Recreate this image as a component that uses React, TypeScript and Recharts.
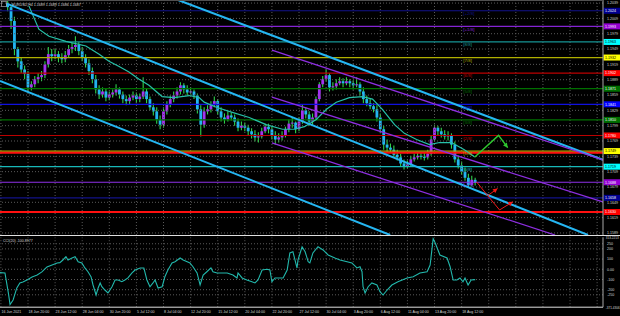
import React from 'react';
import { ComposedChart, Bar, Line, XAxis, YAxis, ReferenceLine, ReferenceDot } from 'recharts';

// ---------- data ----------
const FIRST_INDEX = 2; // index of first visible candle (each candle = 2 H4 bars)
const opens = [1.2039,1.2031,1.2004,1.1949,1.1925,1.1909,1.1900,1.1874,1.1880,1.1890,1.1894,1.1898,1.1919,1.1939,1.1935,1.1939,1.1933,1.1929,1.1937,1.1949,1.1953,1.1957,1.1945,1.1933,1.1921,1.1906,1.1890,1.1870,1.1860,1.1866,1.1854,1.1860,1.1864,1.1870,1.1860,1.1851,1.1847,1.1854,1.1858,1.1851,1.1856,1.1866,1.1851,1.1835,1.1827,1.1811,1.1801,1.1827,1.1841,1.1851,1.1858,1.1866,1.1878,1.1870,1.1864,1.1866,1.1858,1.1831,1.1801,1.1827,1.1831,1.1839,1.1847,1.1827,1.1815,1.1811,1.1819,1.1815,1.1807,1.1795,1.1799,1.1795,1.1788,1.1782,1.1776,1.1778,1.1788,1.1797,1.1792,1.1780,1.1772,1.1776,1.1780,1.1792,1.1803,1.1805,1.1792,1.1807,1.1829,1.1821,1.1807,1.1815,1.1851,1.1880,1.1890,1.1898,1.1874,1.1876,1.1882,1.1886,1.1882,1.1886,1.1882,1.1878,1.1880,1.1866,1.1851,1.1843,1.1837,1.1831,1.1815,1.1792,1.1762,1.1756,1.1752,1.1742,1.1737,1.1725,1.1719,1.1723,1.1733,1.1737,1.1740,1.1738,1.1737,1.1744,1.1772,1.1795,1.1788,1.1782,1.1778,1.1780,1.1762,1.1733,1.1721,1.1709,1.1697,1.1683,1.1693];
const highs = [1.2047,1.2035,1.2012,1.1953,1.1933,1.1917,1.1906,1.1886,1.1896,1.1902,1.1906,1.1925,1.1953,1.1949,1.1949,1.1945,1.1941,1.1945,1.1957,1.1961,1.1974,1.1963,1.1953,1.1939,1.1929,1.1913,1.1898,1.1878,1.1874,1.1872,1.1866,1.1870,1.1880,1.1874,1.1866,1.1858,1.1860,1.1866,1.1864,1.1862,1.1894,1.1872,1.1856,1.1843,1.1835,1.1819,1.1835,1.1847,1.1858,1.1866,1.1874,1.1884,1.1882,1.1878,1.1874,1.1870,1.1862,1.1839,1.1835,1.1839,1.1847,1.1856,1.1851,1.1835,1.1823,1.1827,1.1825,1.1821,1.1813,1.1807,1.1805,1.1801,1.1794,1.1790,1.1786,1.1795,1.1803,1.1803,1.1797,1.1788,1.1784,1.1788,1.1797,1.1811,1.1815,1.1807,1.1815,1.1841,1.1835,1.1827,1.1823,1.1856,1.1884,1.1896,1.1909,1.1902,1.1884,1.1890,1.1894,1.1892,1.1894,1.1890,1.1888,1.1894,1.1884,1.1874,1.1858,1.1851,1.1843,1.1839,1.1823,1.1799,1.1772,1.1764,1.1760,1.1752,1.1744,1.1733,1.1731,1.1740,1.1744,1.1748,1.1746,1.1746,1.1752,1.1780,1.1801,1.1799,1.1795,1.1790,1.1788,1.1784,1.1768,1.1740,1.1729,1.1717,1.1705,1.1701,1.1697];
const lows = [1.2023,1.1988,1.1937,1.1913,1.1902,1.1890,1.1864,1.1868,1.1874,1.1882,1.1886,1.1892,1.1913,1.1925,1.1929,1.1923,1.1921,1.1923,1.1933,1.1941,1.1945,1.1937,1.1925,1.1913,1.1898,1.1882,1.1862,1.1851,1.1854,1.1847,1.1849,1.1854,1.1858,1.1852,1.1843,1.1839,1.1841,1.1849,1.1843,1.1845,1.1851,1.1843,1.1829,1.1819,1.1803,1.1792,1.1795,1.1821,1.1835,1.1845,1.1852,1.1860,1.1862,1.1858,1.1860,1.1851,1.1823,1.1778,1.1795,1.1821,1.1825,1.1835,1.1821,1.1807,1.1803,1.1807,1.1809,1.1799,1.1788,1.1790,1.1788,1.1780,1.1774,1.1768,1.1766,1.1774,1.1784,1.1784,1.1772,1.1762,1.1766,1.1770,1.1776,1.1786,1.1795,1.1784,1.1788,1.1803,1.1813,1.1799,1.1801,1.1811,1.1847,1.1874,1.1886,1.1866,1.1868,1.1870,1.1878,1.1874,1.1878,1.1874,1.1870,1.1874,1.1858,1.1843,1.1837,1.1831,1.1825,1.1807,1.1784,1.1752,1.1748,1.1746,1.1737,1.1731,1.1719,1.1713,1.1715,1.1719,1.1729,1.1733,1.1733,1.1731,1.1733,1.1740,1.1768,1.1780,1.1776,1.1772,1.1770,1.1754,1.1727,1.1715,1.1703,1.1691,1.1678,1.1680,1.1682];
const closes = [1.2031,1.2004,1.1949,1.1925,1.1909,1.1900,1.1874,1.1880,1.1890,1.1894,1.1898,1.1919,1.1939,1.1935,1.1939,1.1933,1.1929,1.1937,1.1949,1.1953,1.1957,1.1945,1.1933,1.1921,1.1906,1.1890,1.1870,1.1860,1.1866,1.1854,1.1860,1.1864,1.1870,1.1860,1.1851,1.1847,1.1854,1.1858,1.1851,1.1856,1.1866,1.1851,1.1835,1.1827,1.1811,1.1801,1.1827,1.1841,1.1851,1.1858,1.1866,1.1878,1.1870,1.1864,1.1866,1.1858,1.1831,1.1801,1.1827,1.1831,1.1839,1.1847,1.1827,1.1815,1.1811,1.1819,1.1815,1.1807,1.1795,1.1799,1.1795,1.1788,1.1782,1.1776,1.1778,1.1788,1.1797,1.1792,1.1780,1.1772,1.1776,1.1780,1.1792,1.1803,1.1805,1.1792,1.1807,1.1829,1.1821,1.1807,1.1815,1.1851,1.1880,1.1890,1.1898,1.1874,1.1876,1.1882,1.1886,1.1882,1.1886,1.1882,1.1878,1.1880,1.1866,1.1851,1.1843,1.1837,1.1831,1.1815,1.1792,1.1762,1.1756,1.1752,1.1742,1.1737,1.1725,1.1719,1.1723,1.1733,1.1737,1.1740,1.1738,1.1737,1.1744,1.1772,1.1795,1.1788,1.1782,1.1778,1.1780,1.1762,1.1733,1.1721,1.1709,1.1697,1.1683,1.1693,1.1687];

const maIdx = [8.3,11.2,14.2,19.2,25.1,29.0,31.9,34.9,37.8,40.8,43.7,47.6,51.1,55.6,58.5,60.0,63.6,68.3,73.3,78.3,83.1,86.6,89.6,93.1,96.1,99.0,102.9,106.7,109.7,112.6,116.2,119.1,122.7,126.5,129.5,133.0,136.8,139.8];
const maVal = [1.2033,1.1988,1.1974,1.1964,1.1955,1.1939,1.1925,1.1915,1.1904,1.1890,1.1878,1.1856,1.1854,1.1858,1.1854,1.1845,1.1835,1.1825,1.1815,1.1801,1.1792,1.1792,1.1797,1.1811,1.1831,1.1845,1.1854,1.1856,1.1851,1.1831,1.1801,1.1784,1.1772,1.1762,1.1766,1.1766,1.1752,1.1738];

const greenIdx = [139.8,146.9,149.6];
const greenVal = [1.1737,1.1780,1.1756];
const red1Idx = [140.4,143.7,146.6];
const red1Val = [1.1689,1.1662,1.1676];
const red2Idx = [143.7,147.2,151.1];
const red2Val = [1.1662,1.1634,1.1650];

const cciIdx = [-0.3,1.2,2.2,2.7,3.6,4.7,5.6,6.5,7.7,9.2,10.7,12.1,13.6,15.1,16.6,17.4,18.3,19.2,19.8,21,21.9,22.8,23.9,24.8,25.7,26.6,27.2,28.1,28.7,29.3,29.8,30.7,31.6,32.8,33.7,34.6,35.7,36.6,37.5,38.7,39.6,41.1,42.2,43.1,44,44.9,45.5,46.4,47.6,48.4,49.3,50.5,51.4,52.9,53.8,55,55.8,56.7,57.9,58.8,59.7,60.8,62,62.6,63.8,65.3,66.8,68.5,69.7,70,71.2,72.6,74.1,75,75.9,77.1,78.6,79.4,80,80.9,81.8,83.3,84.5,85.3,86.2,87.4,87.7,88.9,89.8,90.7,91.2,92.1,93.6,95.1,96.6,98.6,100.1,102.2,103.6,105.1,106,106.6,106.9,107.5,108.4,109.5,111,111.9,112.8,114,115.4,117.2,119.9,121.7,123.7,125.8,126.7,127.6,128.2,129.6,131.7,132.6,133.5,134.6,135.5,136.4,137,137.9,138.8,140];
const cciVal = [-33,-36,-232,-345,-301,-183,-134,-124,-105,-75,-56,-26,23,42,62,65,91,123,91,111,123,74,62,13,-24,-73,-154,-252,-183,-134,-171,-203,-232,-171,-105,-105,-122,-105,-85,-36,-7,13,13,-105,-171,-134,-105,-183,-171,-73,-7,62,74,111,91,74,62,25,-36,-154,-56,-24,13,-24,-36,-36,-36,-56,-85,-36,-85,-105,-122,-134,-105,-7,0,-7,-122,-85,-85,-85,-7,160,172,13,91,221,172,74,62,160,221,189,140,111,91,74,62,13,25,-24,-171,-232,-171,-134,-154,-220,-252,-203,-154,-122,-85,-73,-36,-24,42,300,258,140,111,25,-105,-105,-85,-122,-85,-154,-105,-101];

const priceTicks = [1.2039,1.2009,1.1979,1.1949,1.1919,1.1889,1.1859,1.1829,1.1799,1.1769,1.1739,1.1709,1.1679,1.1649,1.1619,1.1589];
const timeLabels = ['16 Jun 2021','18 Jun 20:00','23 Jun 12:00','28 Jun 04:00','30 Jun 20:00','5 Jul 12:00','8 Jul 04:00','12 Jul 20:00','15 Jul 12:00','20 Jul 04:00','22 Jul 20:00','27 Jul 12:00','30 Jul 04:00','3 Aug 20:00','6 Aug 12:00','11 Aug 04:00','13 Aug 20:00','18 Aug 12:00'];
const gridIdx = [0,8,16,24,32,40,48,56,64,72,80,88,96,104,112,120,128,136,144,152,160,168,176];
const cciTicks = [313.2213,250,200,100,0,-100,-200,-250,-371.4306];
const cciTickText = ['313.2213','250','200','100','0.00','-100','-200','-250','-371.4306'];

const murreyNames = ['[+2/8]','[+1/8]','[8/8]','[7/8]','[6/8]','[5/8]','[4/8]','[3/8]','[2/8]','[1/8]','[0/8]','[-1/8]','[-2/8]'];
const murreyPrices = [1.2023926,1.1993408,1.196289,1.1932373,1.1901855,1.1871338,1.184082,1.1810303,1.1779785,1.1749268,1.171875,1.1688232,1.1657715];
const murreyLine = ['#12128a','#8424d4','#169494','#b0b000','#bc0000','#007000','#1010e0','#007000','#bc0000','#b0b000','#18b8b8','#8f30e8','#12128a'];
const murreyBox = ['#000090','#9400d3','#00ffff','#ffff00','#ff0000','#007000','#0000ff','#007000','#ff0000','#ffff00','#00ffff','#9400d3','#000090'];
const murreyBoxText = ['#ffffff','#ffffff','#000000','#000000','#ffffff','#ffffff','#ffffff','#ffffff','#ffffff','#000000','#000000','#ffffff','#ffffff'];
const supportPrices = [1.1746, 1.1630];

const cyanChannels = [
  [[52.3, 1.2045], [177.7, 1.1732]],
  [[2.1, 1.2037], [173.3, 1.1585]],
  [[-0.27, 1.18865], [114.9, 1.1585]],
];
const purpleChannels = [
  [[80.0, 1.19471], [177.7, 1.1732]],
  [[80.0, 1.18551], [177.7, 1.16496]],
  [[80.0, 1.17651], [163.6, 1.1585]],
];

// ---------- style ----------
const FONT = 'Liberation Sans, Arial, sans-serif';
const AXIS_TXT = '#d6d6d6';
const GRID = '#5a5a5a';
const BULL = '#a234ee';
const BEAR = '#22b4f0';
const WICK = '#2fd24a';
const X_DOMAIN: [number, number] = [-0.266, 177.73];

const candles = closes.map((c, k) => ({ i: FIRST_INDEX + k, o: opens[k], h: highs[k], l: lows[k], c }));
const maData = maIdx.map((i, k) => ({ i, v: maVal[k] }));
const greenData = greenIdx.map((i, k) => ({ i, v: greenVal[k] }));
const red1Data = red1Idx.map((i, k) => ({ i, v: red1Val[k] }));
const red2Data = red2Idx.map((i, k) => ({ i, v: red2Val[k] }));
const cciData = cciIdx.map((i, k) => ({ i, v: cciVal[k] }));

const CandleShape = (props: any) => {
  const { x, y, width, height, payload } = props;
  if (x == null || y == null || !payload) return <g />;
  const top = Math.min(y, y + height);
  const h = Math.abs(height);
  const range = payload.h - payload.l;
  const k = range > 0 ? h / range : 0;
  const cx = x + width / 2;
  const yo = top + (payload.h - payload.o) * k;
  const yc = top + (payload.h - payload.c) * k;
  const bull = payload.c >= payload.o;
  const bt = Math.min(yo, yc);
  const bh = Math.max(Math.abs(yc - yo), 1);
  return (
    <g>
      <line x1={cx} x2={cx} y1={top} y2={top + h} stroke={WICK} strokeWidth={1.1} />
      <rect x={cx - 1.4} y={bt} width={2.8} height={bh} fill={bull ? BULL : BEAR} />
    </g>
  );
};

const AxisBox = (props: any) => {
  const { viewBox, fill, text, textFill } = props;
  if (!viewBox) return null;
  const x = viewBox.x + viewBox.width;
  const y = viewBox.y;
  return (
    <g>
      <rect x={x + 0.5} y={y - 3} width={16.5} height={6} fill={fill} />
      <text x={x + 2} y={y + 1.3} fontSize={3.6} fill={textFill} fontFamily={FONT}>{text}</text>
    </g>
  );
};

function makeArrowDot(color: string, n: number) {
  let prev: { x: number; y: number } | null = null;
  return (p: any) => {
    const { cx, cy, index } = p;
    if (index === 0) prev = null;
    let el: any = <g key={`d${index}`} />;
    if (index === n - 1 && prev) {
      const dx = cx - prev.x;
      const dy = cy - prev.y;
      const len = Math.hypot(dx, dy) || 1;
      const ux = dx / len;
      const uy = dy / len;
      const L = 4.5;
      const Wd = 2.4;
      const bx = cx - ux * L;
      const by = cy - uy * L;
      const pts = `${cx},${cy} ${bx - uy * Wd},${by + ux * Wd} ${bx + uy * Wd},${by - ux * Wd}`;
      el = <polygon key={`d${index}`} points={pts} fill={color} />;
    }
    prev = { x: cx, y: cy };
    return el;
  };
}

const PriceTick = (props: any) => {
  const { x, y, payload } = props;
  return (
    <text x={x + 2} y={y + 1.3} fontSize={3.6} fill={AXIS_TXT} fontFamily={FONT}>
      {Number(payload.value).toFixed(4)}
    </text>
  );
};

const CciTick = (props: any) => {
  const { x, y, payload } = props;
  const k = cciTicks.indexOf(payload.value);
  const txt = k >= 0 ? cciTickText[k] : String(payload.value);
  const long = txt.length > 5;
  return (
    <text x={x + (long ? 0.8 : 2)} y={y + 1.3} fontSize={long ? 3.1 : 3.6} fill={AXIS_TXT} fontFamily={FONT}>
      {txt}
    </text>
  );
};

const TimeTick = (props: any) => {
  const { x, y, payload } = props;
  const k = gridIdx.indexOf(payload.value);
  return (
    <text x={x + 0.5} y={y + 4} fontSize={3.6} fill={AXIS_TXT} fontFamily={FONT}>
      {timeLabels[k] ?? ''}
    </text>
  );
};

export default function App() {
  return (
    <div style={{ position: 'absolute', left: 0, top: 0, width: 620, height: 316, background: '#000', overflow: 'hidden' }}>
      <div style={{ position: 'absolute', left: 0, top: 0 }}>
        <ComposedChart width={620} height={236} data={candles} margin={{ top: 0, right: 0, bottom: 1, left: 0 }}>
          <XAxis type="number" dataKey="i" domain={X_DOMAIN} allowDataOverflow hide />
          <YAxis
            orientation="right"
            width={17}
            type="number"
            domain={[1.1585, 1.2045]}
            allowDataOverflow
            ticks={priceTicks}
            interval={0}
            tick={<PriceTick />}
            tickLine={false}
            tickSize={0}
            axisLine={{ stroke: '#a8a8a8' }}
          />
          {gridIdx.map((g) => (
            <ReferenceLine key={`gv${g}`} x={g} stroke={GRID} strokeDasharray="1 2" ifOverflow="hidden" />
          ))}
          {priceTicks.map((p) => (
            <ReferenceLine key={`gh${p}`} y={p} stroke={GRID} strokeDasharray="1 2" />
          ))}
          {murreyPrices.map((p, k) => (
            <ReferenceLine
              key={`m${k}`}
              y={p}
              stroke={murreyLine[k]}
              strokeWidth={1.2}
              label={<AxisBox fill={murreyBox[k]} text={p.toFixed(4)} textFill={murreyBoxText[k]} />}
            />
          ))}
          <ReferenceLine y={supportPrices[0]} stroke="#ff1010" strokeWidth={2} />
          <ReferenceLine
            y={supportPrices[1]}
            stroke="#ff1010"
            strokeWidth={2}
            label={<AxisBox fill="#ff0000" text={supportPrices[1].toFixed(4)} textFill="#ffffff" />}
          />
          {murreyPrices.map((p, k) => (
            <ReferenceDot
              key={`mt${k}`}
              x={136.5}
              y={p}
              r={0}
              ifOverflow="visible"
              shape={(sp: any) => (
                <text x={sp.cx} y={sp.cy + 4.2} fontSize={4.4} fill={murreyLine[k]} fontFamily={FONT}>
                  {murreyNames[k]}
                </text>
              )}
            />
          ))}
          <Bar dataKey={(d: any) => [d.l, d.h]} shape={CandleShape} barSize={3} isAnimationActive={false} />
          <Line data={maData} dataKey="v" type="linear" stroke="#26c0a8" strokeWidth={1.2} dot={false} activeDot={false} isAnimationActive={false} />
          {cyanChannels.map((s, k) => (
            <ReferenceLine
              key={`c${k}`}
              segment={[{ x: s[0][0], y: s[0][1] }, { x: s[1][0], y: s[1][1] }]}
              stroke="#25b6f2"
              strokeWidth={2}
              ifOverflow="hidden"
            />
          ))}
          {purpleChannels.map((s, k) => (
            <ReferenceLine
              key={`p${k}`}
              segment={[{ x: s[0][0], y: s[0][1] }, { x: s[1][0], y: s[1][1] }]}
              stroke="#8d2ee0"
              strokeWidth={1.3}
              ifOverflow="hidden"
            />
          ))}
          <Line data={greenData} dataKey="v" type="linear" stroke="#2fc72f" strokeWidth={1.4} dot={makeArrowDot('#2fc72f', greenData.length)} activeDot={false} isAnimationActive={false} />
          <Line data={red1Data} dataKey="v" type="linear" stroke="#f01818" strokeWidth={1} dot={makeArrowDot('#f01818', red1Data.length)} activeDot={false} isAnimationActive={false} />
          <Line data={red2Data} dataKey="v" type="linear" stroke="#f01818" strokeWidth={1} dot={makeArrowDot('#f01818', red2Data.length)} activeDot={false} isAnimationActive={false} />
        </ComposedChart>
      </div>
      <div style={{ position: 'absolute', left: 0, top: 0, width: 603, height: 1, background: '#505050' }} />
      <div style={{ position: 'absolute', left: 0, top: 235, width: 620, height: 1, background: '#e0e0e0' }} />
      <div style={{ position: 'absolute', left: 0, top: 236 }}>
        <ComposedChart width={620} height={80} data={cciData} margin={{ top: 1.3, right: 0, bottom: 0, left: 0 }}>
          <XAxis
            type="number"
            dataKey="i"
            domain={X_DOMAIN}
            allowDataOverflow
            ticks={gridIdx.slice(0, timeLabels.length)}
            interval={0}
            height={8.8}
            tick={<TimeTick />}
            tickLine={false}
            tickSize={0}
            axisLine={{ stroke: '#e0e0e0' }}
          />
          <YAxis
            orientation="right"
            width={17}
            type="number"
            domain={[-371.4306, 313.2213]}
            allowDataOverflow
            ticks={cciTicks}
            interval={0}
            tick={<CciTick />}
            tickLine={false}
            tickSize={0}
            axisLine={{ stroke: '#a8a8a8' }}
          />
          {gridIdx.map((g) => (
            <ReferenceLine key={`cv${g}`} x={g} stroke={GRID} strokeDasharray="1 2" ifOverflow="hidden" />
          ))}
          {cciTicks.slice(1, 8).map((t) => (
            <ReferenceLine key={`ch${t}`} y={t} stroke={GRID} strokeDasharray="1 2" />
          ))}
          <Line dataKey="v" type="linear" stroke="#22b8ac" strokeWidth={1.1} dot={false} activeDot={false} isAnimationActive={false} />
        </ComposedChart>
      </div>
      <svg width={620} height={316} style={{ position: 'absolute', left: 0, top: 0, pointerEvents: 'none' }}>
        <rect x={1.5} y={1.5} width={5} height={5} fill="none" stroke="#c0c0c0" strokeWidth={0.6} />
        <text x={12} y={5.5} fontSize={3.6} fill={AXIS_TXT} fontFamily={FONT}>EURUSD,H4  1.1689 1.1689 1.1686 1.1687</text>
        <text x={3} y={241.5} fontSize={3.6} fill={AXIS_TXT} fontFamily={FONT}>CCI(20) -100.8977</text>
      </svg>
    </div>
  );
}
